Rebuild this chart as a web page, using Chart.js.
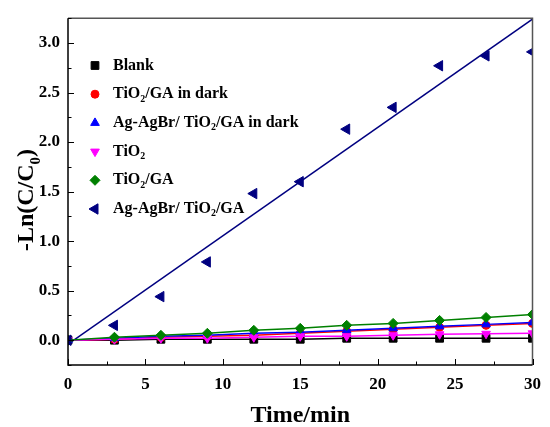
<!DOCTYPE html>
<html>
<head>
<meta charset="utf-8">
<script src="https://cdn.jsdelivr.net/npm/chart.js@4.4.1/dist/chart.umd.min.js"></script>
<style>
html,body{margin:0;padding:0;background:#fff;}
#wrap{width:550px;height:427px;position:relative;}
</style>
</head>
<body>
<div id="wrap"><canvas id="c" width="550" height="427"></canvas></div>
<script>
// ---- data ----
const times = [0, 3, 6, 9, 12, 15, 18, 21, 24, 27, 30];
const blank      = [0, 0.00, 0.01, 0.01, 0.01, 0.01, 0.02, 0.02, 0.02, 0.02, 0.02];
const tio2gaDark = [0, 0.01, 0.03, 0.04, 0.05, 0.07, 0.09, 0.11, 0.13, 0.15, 0.17];
const agDark     = [0, 0.02, 0.04, 0.05, 0.07, 0.08, 0.10, 0.12, 0.14, 0.16, 0.18];
const tio2       = [0, 0.01, 0.02, 0.02, 0.03, 0.04, 0.04, 0.05, 0.06, 0.065, 0.07];
const tio2ga     = [0, 0.03, 0.05, 0.07, 0.10, 0.12, 0.15, 0.17, 0.20, 0.23, 0.26];
const agLight    = [0, 0.15, 0.44, 0.79, 1.48, 1.60, 2.13, 2.35, 2.77, 2.87, 2.91];
const fitTimes   = [0, 30];
const agLightFit = [-0.04, 3.24];
const seriesNames = ['Blank', 'TiO_2/GA in dark', 'Ag-AgBr/ TiO_2/GA in dark', 'TiO_2', 'TiO_2/GA', 'Ag-AgBr/ TiO_2/GA'];
const xTicks = [0, 5, 10, 15, 20, 25, 30];
const yTicks = [0, 0.5, 1.0, 1.5, 2.0, 2.5, 3.0];
const xTitle = 'Time/min';
const yTitle = '-Ln(C/C_0)';

const FONT = '"Liberation Serif", "Times New Roman", serif';
const pts = (ys, xs) => ys.map((y, i) => ({x: (xs || times)[i], y}));

const styles = [
  {color: '#000000', pointStyle: 'rect', radius: 5.5, rotation: 0},
  {color: '#ff0000', pointStyle: 'circle', radius: 4, rotation: 0},
  {color: '#0000ff', pointStyle: 'triangle', radius: 5, rotation: 0},
  {color: '#ff00ff', pointStyle: 'triangle', radius: 5, rotation: 180},
  {color: '#008000', pointStyle: 'rectRot', radius: 5, rotation: 0},
  {color: '#000080', pointStyle: 'triangle', radius: 6, rotation: -90}
];
const seriesData = [blank, tio2gaDark, agDark, tio2, tio2ga, agLight];

const datasets = seriesData.map((d, i) => ({
  label: seriesNames[i],
  data: pts(d),
  showLine: i < 5,
  borderColor: styles[i].color,
  backgroundColor: styles[i].color,
  borderWidth: 1.5,
  pointStyle: styles[i].pointStyle,
  pointRadius: styles[i].radius,
  pointRotation: styles[i].rotation,
  pointBorderWidth: 1,
  pointHoverRadius: styles[i].radius,
  clip: 0,
  order: 10 - i
}));
datasets.push({
  label: 'fit',
  data: pts(agLightFit, fitTimes),
  showLine: true,
  borderColor: '#000080',
  borderWidth: 1.6,
  pointRadius: 0,
  clip: 0,
  order: 20
});

function drawRich(ctx, text, x, y, size, measureOnly) {
  const parts = text.split(/_(.)/);
  let cx = x;
  parts.forEach((p, idx) => {
    if (!p) return;
    const sub = idx % 2 === 1;
    const fs = sub ? size * 0.62 : size;
    ctx.font = 'bold ' + fs + 'px ' + FONT;
    if (!measureOnly) ctx.fillText(p, cx, sub ? y + size * 0.3 : y);
    cx += ctx.measureText(p).width;
  });
  return cx - x;
}

function marker(ctx, st, x, y) {
  ctx.save();
  ctx.fillStyle = st.color;
  ctx.strokeStyle = st.color;
  ctx.lineWidth = 1;
  ctx.translate(x, y);
  ctx.rotate(st.rotation * Math.PI / 180);
  const r = st.radius;
  ctx.beginPath();
  if (st.pointStyle === 'rect') {
    const s = r * Math.SQRT1_2;
    ctx.rect(-s, -s, 2 * s, 2 * s);
  } else if (st.pointStyle === 'circle') {
    ctx.arc(0, 0, r, 0, Math.PI * 2);
  } else if (st.pointStyle === 'rectRot') {
    ctx.moveTo(0, -r); ctx.lineTo(r, 0); ctx.lineTo(0, r); ctx.lineTo(-r, 0);
  } else {
    ctx.moveTo(0, -r);
    ctx.lineTo(r * Math.sin(Math.PI * 2 / 3), -r * Math.cos(Math.PI * 2 / 3));
    ctx.lineTo(-r * Math.sin(Math.PI * 2 / 3), -r * Math.cos(Math.PI * 2 / 3));
  }
  ctx.closePath();
  ctx.fill();
  ctx.stroke();
  ctx.restore();
}

const decor = {
  id: 'decor',
  afterDraw(chart) {
    const ctx = chart.ctx;
    const a = chart.chartArea;
    const xs = chart.scales.x, ys = chart.scales.y;
    ctx.save();
    // frame
    ctx.lineWidth = 1.5;
    ctx.strokeStyle = '#555';
    ctx.beginPath();
    ctx.moveTo(a.left, a.top); ctx.lineTo(a.right, a.top); ctx.lineTo(a.right, a.bottom);
    ctx.stroke();
    ctx.strokeStyle = '#000';
    ctx.beginPath();
    ctx.moveTo(a.left, a.top); ctx.lineTo(a.left, a.bottom); ctx.lineTo(a.right, a.bottom);
    ctx.stroke();
    // ticks (inward)
    ctx.lineWidth = 1;
    ctx.beginPath();
    for (let v = 0; v <= 30.001; v += 2.5) {
      const px = Math.round(xs.getPixelForValue(v)) + 0.5;
      const len = (Math.abs(v / 5 - Math.round(v / 5)) < 1e-6) ? 6 : 3.5;
      ctx.moveTo(px, a.bottom); ctx.lineTo(px, a.bottom - len);
    }
    for (let v = -0.25; v <= 3.251; v += 0.25) {
      const py = Math.round(ys.getPixelForValue(v)) + 0.5;
      const len = (Math.abs(v / 0.5 - Math.round(v / 0.5)) < 1e-6) ? 6 : 3.5;
      ctx.moveTo(a.left, py); ctx.lineTo(a.left + len, py);
    }
    ctx.stroke();
    // legend
    ctx.fillStyle = '#000';
    ctx.textBaseline = 'middle';
    ctx.textAlign = 'left';
    seriesNames.forEach((name, i) => {
      const y = 65.5 + i * 28.7;
      marker(ctx, styles[i], 95, y);
      ctx.fillStyle = '#000';
      drawRich(ctx, name, 113, y, 16);
    });
    // axis titles
    ctx.textBaseline = 'alphabetic';
    ctx.font = 'bold 24px ' + FONT;
    ctx.textAlign = 'center';
    ctx.fillText(xTitle, (a.left + a.right) / 2, 422);
    ctx.textAlign = 'left';
    ctx.translate(33, 200);
    ctx.rotate(-Math.PI / 2);
    const w = drawRich(ctx, yTitle, 0, 0, 24, true);
    drawRich(ctx, yTitle, -w / 2, 0, 24);
    ctx.restore();
  }
};

new Chart(document.getElementById('c'), {
  type: 'scatter',
  data: {datasets},
  options: {
    responsive: false,
    animation: false,
    devicePixelRatio: 1,
    layout: {padding: {top: 13, right: 11, left: 0, bottom: 0}},
    plugins: {legend: {display: false}, tooltip: {enabled: false}},
    scales: {
      x: {
        type: 'linear', min: 0, max: 30,
        grid: {display: false, drawTicks: false},
        border: {display: false},
        afterBuildTicks: s => { s.ticks = xTicks.map(v => ({value: v})); },
        afterFit: s => { s.height = 62; },
        ticks: {color: '#000', padding: 9, maxRotation: 0, font: {family: FONT, size: 17, weight: 'bold'},
                callback: v => String(v)}
      },
      y: {
        type: 'linear', min: -0.25, max: 3.25,
        grid: {display: false, drawTicks: false},
        border: {display: false},
        afterBuildTicks: s => { s.ticks = yTicks.map(v => ({value: v})); },
        afterFit: s => { s.width = 68; },
        ticks: {color: '#000', padding: 8, font: {family: FONT, size: 17, weight: 'bold'},
                callback: v => Number(v).toFixed(1)}
      }
    }
  },
  plugins: [decor]
});
</script>
</body>
</html>
